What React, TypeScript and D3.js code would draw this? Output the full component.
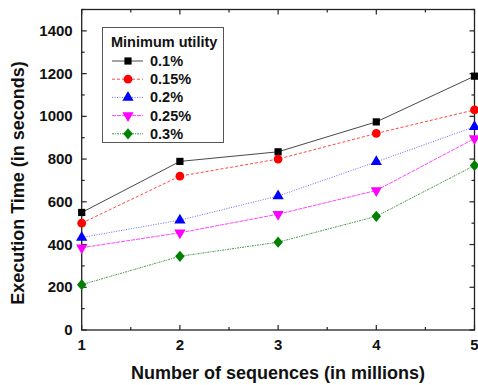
import React from "react";
import * as d3 from "d3";

const xValues = [1, 2, 3, 4, 5];
const series01 = [550, 789, 834, 974, 1188];
const series015 = [500, 720, 800, 920, 1030];
const series02 = [433, 514, 627, 787, 951];
const series025 = [385, 455, 542, 653, 896];
const series03 = [212, 345, 411, 532, 770];
const seriesNames = ["0.1%", "0.15%", "0.2%", "0.25%", "0.3%"];
const yTicks = [0, 200, 400, 600, 800, 1000, 1200, 1400];
const xTicks = [1, 2, 3, 4, 5];

const allSeries = [series01, series015, series02, series025, series03];
const styles = [
  { color: "#000000", line: "#333333", dash: "", marker: "square" },
  { color: "#ff0000", line: "#ff3333", dash: "3,2", marker: "circle" },
  { color: "#0000ff", line: "#5555ff", dash: "1,1.5", marker: "triangle" },
  { color: "#ff00ff", line: "#ff33ff", dash: "4,1", marker: "triangleDown" },
  { color: "#008000", line: "#338833", dash: "2,1,1,1", marker: "diamond" },
];

const W = 478, H = 385;
const L = 81.7, R = 474.5, T = 9.5, B = 330;

function Marker({ type, x, y, color }: { type: string; x: number; y: number; color: string }) {
  const symMap: Record<string, any> = {
    square: d3.symbolSquare,
    circle: d3.symbolCircle,
    triangle: d3.symbolTriangle,
    triangleDown: d3.symbolTriangle,
    diamond: d3.symbolDiamond,
  };
  const sizeMap: Record<string, number> = { square: 52, circle: 60, triangle: 55, triangleDown: 55, diamond: 50 };
  const path = d3.symbol().type(symMap[type]).size(sizeMap[type])()!;
  const rot = type === "triangleDown" ? 180 : 0;
  const sc = type === "diamond" ? "1.25,0.85" : "1";
  return <path d={path} transform={`translate(${x},${y}) rotate(${rot}) scale(${sc})`} fill={color} stroke="none" />;
}

export default function App() {
  const x = d3.scaleLinear().domain([1, 5]).range([L, R]);
  const y = d3.scaleLinear().domain([0, 1500]).range([B, T]);
  const line = d3.line<number>().x((_, i) => x(xValues[i])).y((d) => y(d));
  const yMinor = d3.range(0, 1501, 100);
  const xMinor = d3.range(1, 5.01, 0.5);
  const font = "'Liberation Sans', Arial, sans-serif";

  return (
    <svg width={W} height={H} style={{ position: "absolute", left: 0, top: 0 }} fontFamily={font}>
      <rect x={0} y={0} width={W} height={H} fill="#fff" />
      {allSeries.map((s, i) => (
        <path key={i} d={line(s)!} fill="none" stroke={styles[i].line} strokeWidth={0.9} strokeDasharray={styles[i].dash} />
      ))}
      <rect x={L} y={T} width={R - L} height={B - T} fill="none" stroke="#222" strokeWidth={1.3} />
      {yMinor.map((v) => {
        const major = v % 200 === 0;
        const len = major ? 5 : 3;
        return (
          <g key={"y" + v}>
            <line x1={L} x2={L + len} y1={y(v)} y2={y(v)} stroke="#222" strokeWidth={1.2} />
            <line x1={R} x2={R - len} y1={y(v)} y2={y(v)} stroke="#222" strokeWidth={1.2} />
          </g>
        );
      })}
      {xMinor.map((v) => {
        const major = Number.isInteger(v);
        const len = major ? 5 : 3;
        return (
          <g key={"x" + v}>
            <line x1={x(v)} x2={x(v)} y1={B} y2={B - len} stroke="#222" strokeWidth={1.2} />
            <line x1={x(v)} x2={x(v)} y1={T} y2={T + len} stroke="#222" strokeWidth={1.2} />
          </g>
        );
      })}
      {yTicks.map((v) => (
        <text key={"yl" + v} x={L - 9} y={y(v) + 5} textAnchor="end" fontSize={15} fontWeight="bold" fill="#111">
          {v}
        </text>
      ))}
      {xTicks.map((v) => (
        <text key={"xl" + v} x={x(v)} y={B + 20} textAnchor="middle" fontSize={15} fontWeight="bold" fill="#111">
          {v}
        </text>
      ))}
      <text x={278} y={379} textAnchor="middle" fontSize={18} fontWeight="bold" fill="#111">
        Number of sequences (in millions)
      </text>
      <text transform={`translate(24,${183}) rotate(-90)`} textAnchor="middle" fontSize={18} fontWeight="bold" fill="#111">
        Execution Time (in seconds)
      </text>
      {allSeries.map((s, i) =>
        s.map((v, j) => <Marker key={i + "-" + j} type={styles[i].marker} x={x(xValues[j])} y={y(v)} color={styles[i].color} />)
      )}
      <rect x={102.5} y={27.5} width={121} height={115} fill="#fff" stroke="#555" strokeWidth={1} />
      <text x={111} y={47} fontSize={14.5} fontWeight="bold" fill="#111">Minimum utility</text>
      {seriesNames.map((n, i) => {
        const ly = 61 + i * 18.2;
        return (
          <g key={"lg" + i}>
            <line x1={112} x2={143} y1={ly} y2={ly} stroke={styles[i].line} strokeWidth={0.9} strokeDasharray={styles[i].dash} />
            <Marker type={styles[i].marker} x={128} y={ly} color={styles[i].color} />
            <text x={150} y={ly + 5} fontSize={14.5} fontWeight="bold" fill="#111">{n}</text>
          </g>
        );
      })}
    </svg>
  );
}
